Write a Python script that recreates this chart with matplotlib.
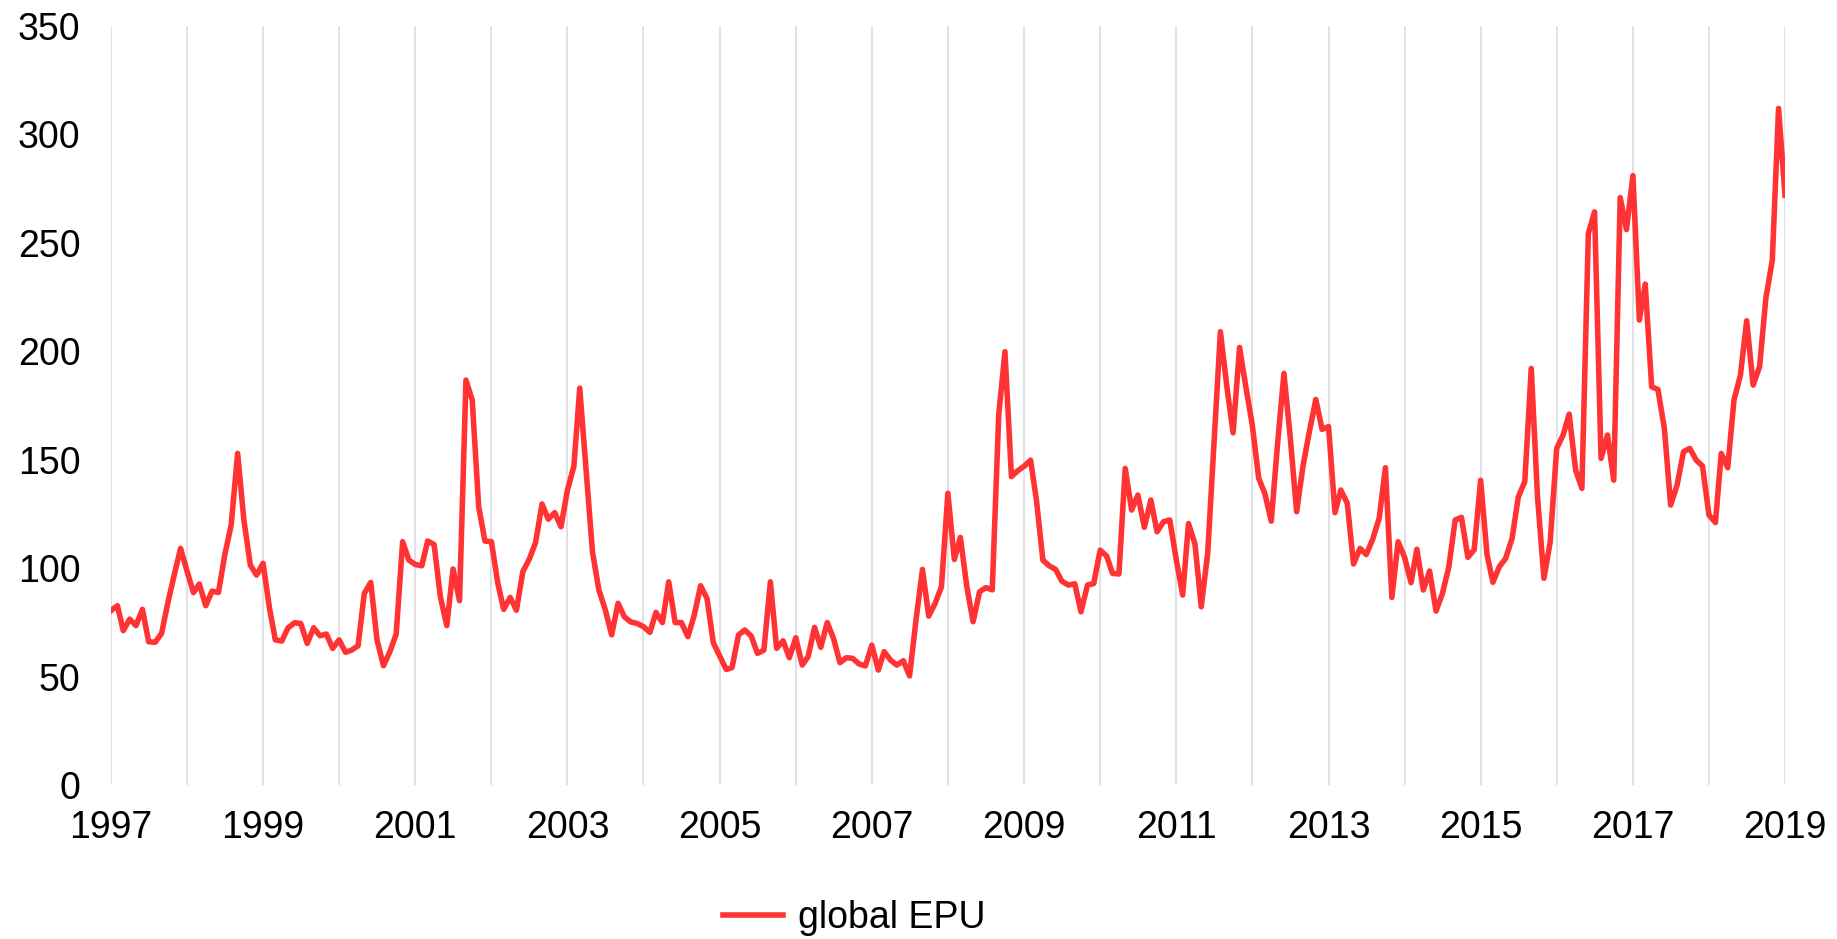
import pandas as pd
import matplotlib
matplotlib.use("Agg")
import matplotlib.pyplot as plt
import matplotlib.dates as mdates

# monthly global EPU, Jan 1997 .. Jan 2019
start = "1997-01-01"
label = "global EPU"
label_years = list(range(1997, 2020, 2))

epu_1997_2000 = [
    80.4, 82.7, 71.2, 76.5, 73.5, 81.0, 66.1, 65.8, 69.9, 84.0, 97.0, 109.1,
    98.7, 88.7, 92.7, 82.7, 89.4, 88.8, 106.0, 119.9, 152.9, 122.2, 101.4, 96.8,
    102.2, 81.5, 66.9, 66.4, 72.5, 74.8, 74.5, 65.3, 72.5, 68.8, 69.6, 63.0,
    66.9, 61.2, 62.2, 64.2, 88.4, 93.4, 66.9, 55.0, 61.5, 69.6, 112.2, 103.7,
]
epu_2001_2004 = [
    101.7, 101.1, 112.5, 110.9, 86.8, 73.5, 99.6, 85.0, 186.7, 177.5, 128.3, 112.5,
    112.2, 93.0, 81.0, 86.5, 80.6, 98.4, 104.0, 111.7, 129.6, 122.6, 125.6, 119.1,
    136.0, 147.0, 183.0, 145.0, 107.6, 89.9, 81.0, 69.2, 83.8, 77.6, 75.2, 74.5,
    73.0, 70.4, 79.6, 74.9, 93.7, 74.9, 74.9, 68.4, 78.4, 91.9, 86.0, 65.6,
]
epu_2005_2008 = [
    59.5, 53.3, 54.1, 69.2, 71.5, 68.7, 60.7, 62.2, 93.7, 63.0, 66.5, 58.7,
    67.9, 55.3, 59.2, 72.7, 63.5, 74.9, 67.6, 56.4, 58.7, 58.4, 55.8, 54.9,
    64.5, 53.0, 61.5, 57.6, 55.3, 57.3, 50.3, 76.1, 99.4, 77.9, 83.8, 91.4,
    134.5, 104.0, 114.2, 91.4, 75.3, 89.1, 91.0, 90.0, 170.6, 199.8, 142.2, 144.9,
]
epu_2009_2012 = [
    147.0, 149.8, 131.4, 103.7, 101.1, 99.4, 94.0, 92.2, 92.8, 79.9, 92.2, 92.9,
    108.3, 105.6, 97.6, 97.3, 146.0, 126.8, 133.7, 118.8, 131.4, 116.8, 121.4, 122.2,
    104.0, 87.6, 120.6, 111.1, 82.2, 106.8, 157.0, 209.0, 183.7, 162.4, 201.8, 183.7,
    166.0, 141.4, 134.5, 121.7, 156.8, 189.8, 160.6, 126.0, 147.5, 162.9, 177.8, 164.0,
]
epu_2013_2016 = [
    165.3, 125.6, 136.0, 129.9, 101.9, 109.1, 106.3, 113.3, 123.0, 146.3, 86.5, 112.2,
    105.0, 93.3, 108.7, 89.9, 98.7, 80.2, 88.1, 100.4, 122.2, 123.4, 105.0, 108.5,
    140.5, 106.0, 93.5, 100.7, 104.5, 113.7, 132.9, 139.9, 192.1, 132.9, 95.3, 112.2,
    155.2, 161.4, 171.0, 145.2, 136.8, 254.3, 264.3, 150.6, 161.4, 140.6, 270.9, 256.1,
]
epu_2017_2019 = [
    281.0, 214.4, 231.0, 183.6, 182.4, 164.4, 129.1, 138.3, 153.7, 155.2, 149.8, 147.1,
    124.5, 121.0, 152.9, 146.3, 177.5, 189.0, 214.1, 184.4, 192.9, 224.4, 242.0, 312.0,
    272.0,
]

values = (epu_1997_2000 + epu_2001_2004 + epu_2005_2008
          + epu_2009_2012 + epu_2013_2016 + epu_2017_2019)
dates = pd.date_range(start, periods=len(values), freq="MS")

plt.rcParams["font.family"] = ["Liberation Sans", "DejaVu Sans"]

fig = plt.figure(figsize=(18.37, 9.39), dpi=100)
ax = fig.add_axes([0.0604, 0.164, 0.9113, 0.8083])

line, = ax.plot(dates, values, color="#FF3333", lw=4.0, label=label,
                solid_joinstyle="round")

ax.set_xlim(dates[0], dates[-1])
ax.set_ylim(0, 350)
ax.set_yticks(range(0, 351, 50))

major = [mdates.date2num(pd.Timestamp(f"{y}-01-01")) for y in label_years]
ax.xaxis.set_major_locator(mdates.ticker.FixedLocator(major))
ax.xaxis.set_major_formatter(mdates.DateFormatter("%Y"))
ax.xaxis.set_minor_locator(mdates.YearLocator(1))
ax.grid(True, axis="x", which="both", color="#D9D9D9", lw=1.1)
ax.set_axisbelow(True)

for s in ax.spines.values():
    s.set_visible(False)
ax.tick_params(axis="both", which="both", length=0, labelsize=27)
ax.tick_params(axis="x", pad=18)
ax.tick_params(axis="y", pad=22)

fig.legend(handles=[line], loc="center", bbox_to_anchor=(0.465, 0.022),
           frameon=False, fontsize=27, handlelength=1.6, handletextpad=0.4)

fig.savefig("out.png", dpi=100)
